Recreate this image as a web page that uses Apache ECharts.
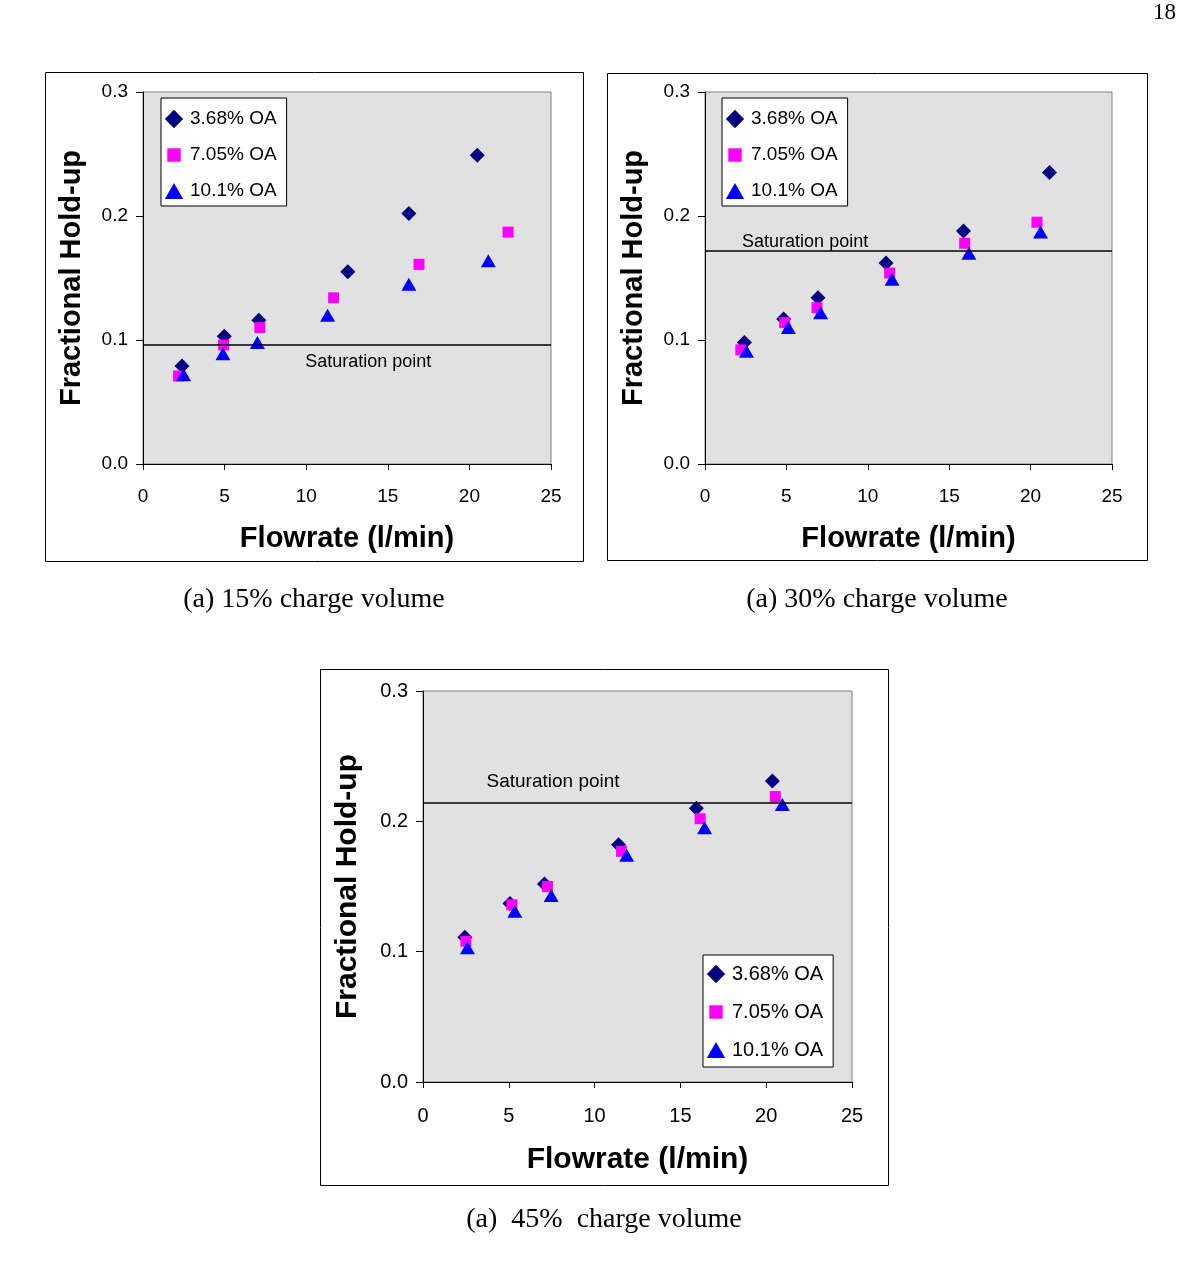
<!DOCTYPE html>
<html>
<head>
<meta charset="utf-8">
<title>Fractional hold-up vs flowrate</title>
<script src="https://cdn.jsdelivr.net/npm/echarts@6/dist/echarts.min.js"></script>
<style>
  html, body { margin: 0; padding: 0; background: #fff; }
  #chart { width: 1178px; height: 1280px; }
</style>
</head>
<body>
<div id="chart"></div>
<script>
// Series names (open area) shared by all three panels
var seriesNames = ['3.68% OA', '7.05% OA', '10.1% OA'];
var xTicks = [0, 5, 10, 15, 20, 25];
var yTicks = ['0.0', '0.1', '0.2', '0.3'];

// 15% charge volume: [flowrate l/min, fractional hold-up]
var p15_368 = [[2.39, 0.079], [4.98, 0.103], [7.10, 0.116], [12.55, 0.155], [16.29, 0.202], [20.48, 0.249]];
var p15_705 = [[2.18, 0.071], [4.94, 0.096], [7.16, 0.110], [11.68, 0.134], [16.91, 0.161], [22.37, 0.187]];
var p15_101 = [[2.49, 0.072], [4.90, 0.089], [7.01, 0.098], [11.31, 0.120], [16.29, 0.145], [21.16, 0.164]];
var sat15 = 0.0965;

// 30% charge volume
var p30_368 = [[2.42, 0.098], [4.83, 0.117], [6.94, 0.134], [11.12, 0.162], [15.88, 0.188], [21.16, 0.235]];
var p30_705 = [[2.20, 0.092], [4.90, 0.114], [6.88, 0.126], [11.34, 0.154], [15.95, 0.178], [20.39, 0.195]];
var p30_101 = [[2.55, 0.091], [5.12, 0.110], [7.10, 0.122], [11.49, 0.149], [16.21, 0.170], [20.61, 0.187]];
var sat30 = 0.1716;

// 45% charge volume
var p45_368 = [[2.44, 0.111], [5.07, 0.137], [7.08, 0.152], [11.40, 0.182], [15.93, 0.210], [20.36, 0.231]];
var p45_705 = [[2.50, 0.108], [5.18, 0.136], [7.25, 0.150], [11.57, 0.177], [16.15, 0.202], [20.53, 0.219]];
var p45_101 = [[2.59, 0.103], [5.35, 0.131], [7.47, 0.143], [11.87, 0.174], [16.41, 0.195], [20.94, 0.213]];
var sat45 = 0.214;

var FONT = '"Liberation Sans", Arial, sans-serif';
var SERIF = '"Liberation Serif", "Times New Roman", serif';

// layout of each panel (pixels) + where the "Saturation point" note sits (data units)
var panels = [
  { data: [p15_368, p15_705, p15_101], sat: sat15, note: [13.8, 0.082],
    grid: { left: 143, top: 92, width: 408, height: 372 },
    box: [45, 72, 538, 489], caption: '(a) 15% charge volume', capY: 600, k: 1,
    legend: { left: 161, top: 98, itemGap: 14, padding: [10, 10, 4, 2] } },
  { data: [p30_368, p30_705, p30_101], sat: sat30, note: [6.15, 0.179],
    grid: { left: 705, top: 92, width: 407, height: 372 },
    box: [607, 73, 540, 487], caption: '(a) 30% charge volume', capY: 600, k: 1,
    legend: { left: 722, top: 98, itemGap: 14, padding: [10, 10, 4, 2] } },
  { data: [p45_368, p45_705, p45_101], sat: sat45, note: [7.58, 0.2305],
    grid: { left: 423, top: 691, width: 429, height: 391 },
    box: [320, 669, 568, 516], caption: '(a)  45%  charge volume', capY: 1220, k: 1.05,
    legend: { left: 703, top: 955, itemGap: 16, padding: [8, 10, 6, 2] } }
];

var markers = [
  { symbol: 'diamond', size: 15, color: '#000080',
    icon: 'path://M0,0M18,18M9,1.5L16.5,9L9,16.5L1.5,9Z' },
  { symbol: 'rect', size: 11, color: '#ff00ff',
    icon: 'path://M0,0M18,18M3.5,3.5L14.5,3.5L14.5,14.5L3.5,14.5Z' },
  { symbol: 'triangle', size: [15, 13], color: '#0000ff',
    icon: 'path://M0,0M18,18M9,2.5L16.5,15.5L1.5,15.5Z' }
];

var grids = [], xAxes = [], yAxes = [], series = [], legends = [], graphics = [];

panels.forEach(function (p, i) {
  var k = p.k;
  grids.push(Object.assign({
    show: true, backgroundColor: '#e1e1e1', borderColor: '#808080', borderWidth: 1
  }, p.grid));

  xAxes.push({
    gridIndex: i, type: 'value', min: 0, max: 25, interval: 5,
    name: 'Flowrate (l/min)', nameLocation: 'middle', nameGap: Math.round(60 * k),
    nameTextStyle: { fontFamily: FONT, fontWeight: 'bold', fontSize: Math.round(29 * k), color: '#000' },
    axisLine: { show: true, onZero: false, lineStyle: { color: '#000', width: 1 } },
    axisTick: { show: true, length: 6, lineStyle: { color: '#000' } },
    axisLabel: { fontFamily: FONT, fontSize: Math.round(19 * k), color: '#000', margin: Math.round(23 * k),
      formatter: function (v) { return xTicks.indexOf(v) >= 0 ? String(v) : ''; } },
    splitLine: { show: false }
  });

  yAxes.push({
    gridIndex: i, type: 'value', min: 0, max: 0.3, interval: 0.1,
    name: 'Fractional Hold-up', nameLocation: 'middle', nameGap: Math.round(57 * k),
    nameTextStyle: { fontFamily: FONT, fontWeight: 'bold', fontSize: Math.round(29 * k), color: '#000' },
    axisLine: { show: true, onZero: false, lineStyle: { color: '#000', width: 1 } },
    axisTick: { show: true, length: 7, lineStyle: { color: '#000' } },
    axisLabel: { fontFamily: FONT, fontSize: Math.round(19 * k), color: '#000', margin: 15,
      formatter: function (v) { return yTicks[Math.round(v * 10)]; } },
    splitLine: { show: false }
  });

  p.data.forEach(function (d, j) {
    var m = markers[j];
    var s = {
      type: 'scatter', name: seriesNames[j], xAxisIndex: i, yAxisIndex: i,
      data: d, symbol: m.symbol, symbolSize: m.size,
      itemStyle: { color: m.color, opacity: 1 },
      emphasis: { disabled: true }
    };
    if (j === 0) {
      s.markLine = {
        silent: true, symbol: 'none', animation: false, precision: 4,
        lineStyle: { color: '#000', width: 1.5, type: 'solid' },
        label: { show: false },
        data: [{ yAxis: p.sat }]
      };
      s.markPoint = {
        silent: true, symbol: 'rect', symbolSize: 0, animation: false,
        label: { show: true, position: 'inside', formatter: 'Saturation point',
          fontFamily: FONT, fontSize: Math.round(18 * k), color: '#000' },
        data: [{ coord: p.note }]
      };
    }
    series.push(s);
  });

  legends.push({
    orient: 'vertical', left: p.legend.left, top: p.legend.top,
    data: seriesNames.map(function (n, j) { return { name: n, icon: markers[j].icon }; }),
    itemWidth: 22, itemHeight: 22, itemGap: p.legend.itemGap,
    padding: p.legend.padding,
    backgroundColor: '#fff', borderColor: '#000', borderWidth: 1, borderRadius: 0,
    selectedMode: false,
    textStyle: { fontFamily: FONT, fontSize: Math.round(19 * k), color: '#000', lineHeight: Math.round(20 * k) }
  });

  // panel frame and caption
  graphics.push({
    type: 'rect', z: -10,
    shape: { x: p.box[0] + 0.5, y: p.box[1] + 0.5, width: p.box[2], height: p.box[3] },
    style: { fill: '#fff', stroke: '#000', lineWidth: 1 }
  });
  graphics.push({
    type: 'text', x: p.box[0] + p.box[2] / 2, y: p.capY,
    style: { text: p.caption, fontFamily: SERIF, fontSize: 28, fill: '#000',
      textAlign: 'center', textVerticalAlign: 'middle' }
  });
});

// page number
graphics.push({
  type: 'text', x: 1176, y: 13,
  style: { text: '18', fontFamily: SERIF, fontSize: 23, fill: '#000',
    textAlign: 'right', textVerticalAlign: 'middle' }
});

var chart = echarts.init(document.getElementById('chart'), null, { renderer: 'canvas' });
chart.setOption({
  animation: false,
  backgroundColor: '#fff',
  grid: grids,
  xAxis: xAxes,
  yAxis: yAxes,
  legend: legends,
  series: series,
  graphic: graphics
});
</script>
</body>
</html>
